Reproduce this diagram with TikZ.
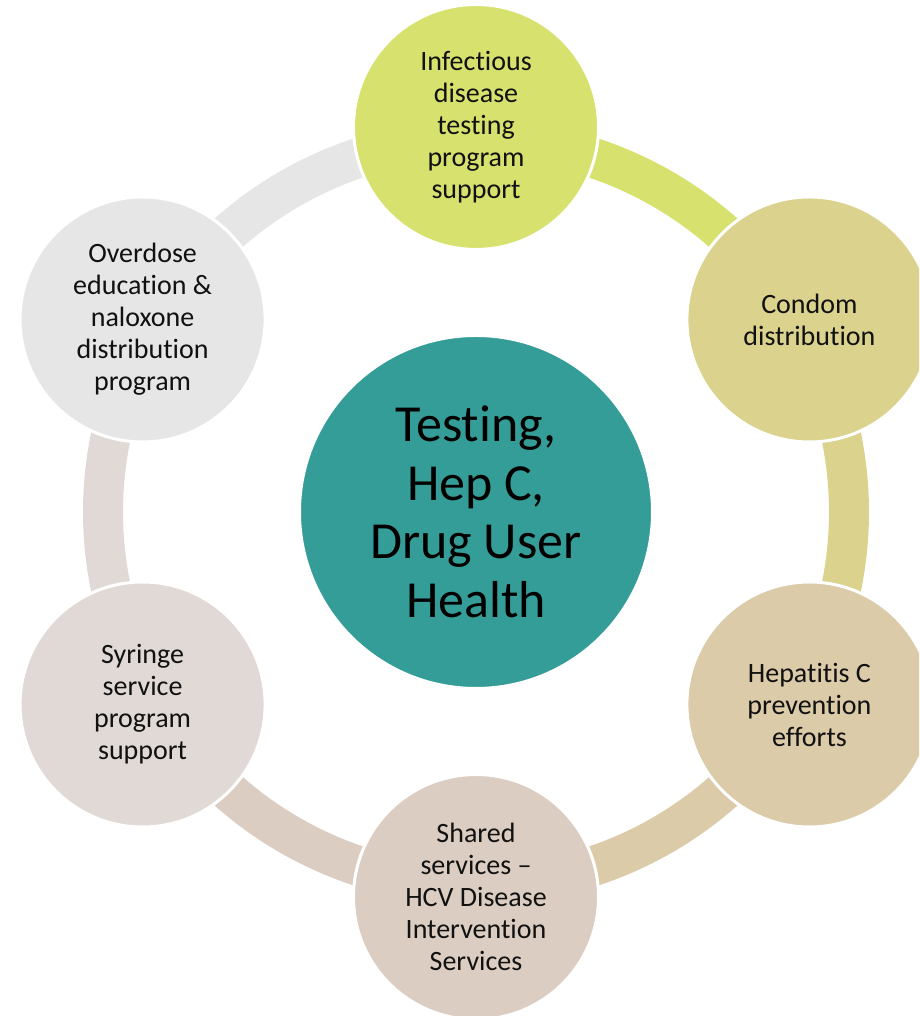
\documentclass[tikz,border=0pt]{standalone}
\usepackage{fontspec}
\setmainfont{Carlito}[RawFeature={-liga;-clig;-calt;-dlig}]
\definecolor{cA}{HTML}{D7E16D}
\definecolor{cB}{HTML}{DBD28E}
\definecolor{cC}{HTML}{DBCBA8}
\definecolor{cD}{HTML}{DBCDC1}
\definecolor{cE}{HTML}{E0D9D5}
\definecolor{cF}{HTML}{E6E6E6}
\definecolor{hubc}{HTML}{359D97}
\definecolor{txt}{HTML}{111111}
\tikzset{
  outer/.style={circle, draw=white, line width=3pt, minimum size=245pt, inner sep=0pt,
    align=center, font=\fontsize{28}{32}\selectfont, text=txt},
  hubnode/.style={circle, draw=white, line width=2pt, fill=hubc, minimum size=352pt, inner sep=0pt,
    align=center, font=\fontsize{52}{58.5}\selectfont, text=black},
  band/.style={draw=#1, line width=40pt}
}
\begin{document}
\begin{tikzpicture}[x=1pt,y=1pt]
\useasboundingbox (0,0) rectangle (919,1016);
\clip (0,0) rectangle (919,1016);
\coordinate (hub0) at (476,504);
% ring arcs
\draw[band=cA] ([shift={(90:373)}]hub0) arc[start angle=90, end angle=30, radius=373];
\draw[band=cB] ([shift={(30:373)}]hub0) arc[start angle=30, end angle=-30, radius=373];
\draw[band=cC] ([shift={(-30:373)}]hub0) arc[start angle=-30, end angle=-90, radius=373];
\draw[band=cD] ([shift={(-90:373)}]hub0) arc[start angle=-90, end angle=-150, radius=373];
\draw[band=cE] ([shift={(-150:373)}]hub0) arc[start angle=-150, end angle=-210, radius=373];
\draw[band=cF] ([shift={(150:373)}]hub0) arc[start angle=150, end angle=90, radius=373];
% hub
\node[hubnode] (hub) at (hub0) {Testing,\\Hep C,\\Drug User\\Health};
% outer circles
\node[outer, fill=cA] (n1) at ([shift={(90:385)}]hub0) {Infectious\\disease\\testing\\program\\support};
\node[outer, fill=cB] (n2) at ([shift={(30:385)}]hub0) {Condom\\distribution};
\node[outer, fill=cC] (n3) at ([shift={(-30:385)}]hub0) {Hepatitis C\\prevention\\efforts};
\node[outer, fill=cD] (n4) at ([shift={(-90:385)}]hub0) {Shared\\services --\\HCV Disease\\Intervention\\Services};
\node[outer, fill=cE] (n5) at ([shift={(-150:385)}]hub0) {Syringe\\service\\program\\support};
\node[outer, fill=cF] (n6) at ([shift={(150:385)}]hub0) {Overdose\\education \&\\naloxone\\distribution\\program};
\end{tikzpicture}
\end{document}
